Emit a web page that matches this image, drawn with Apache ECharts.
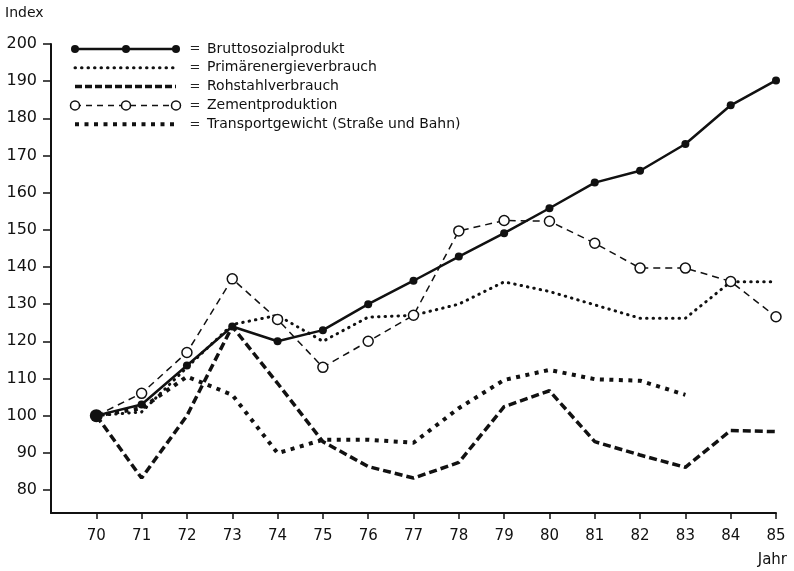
<!DOCTYPE html>
<html>
<head>
<meta charset="utf-8">
<script src="https://cdn.jsdelivr.net/npm/echarts@6/dist/echarts.min.js"></script>
<style>html,body{margin:0;padding:0;background:#fff}#c{width:794px;height:571px}</style>
</head>
<body>
<div id="c"></div>
<script>
var years = [70, 71, 72, 73, 74, 75, 76, 77, 78, 79, 80, 81, 82, 83, 84, 85];
var yTicks = [80, 90, 100, 110, 120, 130, 140, 150, 160, 170, 180, 190, 200];
var names = ['Bruttosozialprodukt', 'Primärenergieverbrauch', 'Rohstahlverbrauch', 'Zementproduktion', 'Transportgewicht (Straße und Bahn)'];
var brutto    = [100, 103, 113.5, 124, 120, 123, 130, 136.3, 142.8, 149.1, 155.8, 162.7, 165.9, 173.1, 183.5, 190.2];
var primaer   = [100, 101, 113, 124.5, 127, 120, 126.5, 127, 130, 136, 133.4, 129.8, 126.2, 126.2, 136, 136];
var rohstahl  = [100, 83.2, 100, 124, 108.7, 93, 86.3, 83.2, 87.4, 102.4, 106.7, 93, 89.4, 86.1, 96, 95.7];
var zement    = [100, 106, 117, 136.8, 125.9, 113, 120, 127, 149.7, 152.5, 152.3, 146.4, 139.7, 139.7, 136.1, 126.6];
var transport = [100, 102, 110.5, 105.6, 89.9, 93.5, 93.5, 92.7, 102, 109.6, 112.3, 109.8, 109.4, 105.6, null, null];

function pairs(arr) {
  var out = [];
  for (var i = 0; i < years.length; i++) { if (arr[i] != null) out.push([years[i], arr[i]]); }
  return out;
}
var FONT = 'DejaVu Sans';
var chart = echarts.init(document.getElementById('c'), null, {renderer: 'canvas'});

// legend drawn with graphic elements
var lx0 = 75, lx1 = 176, ly0 = 49, ldy = 18.8;
var styles = [
  {lineWidth: 2.5, lineDash: null, lineCap: 'butt'},
  {lineWidth: 3, lineDash: [0.5, 6], lineCap: 'round'},
  {lineWidth: 3.5, lineDash: [7, 3], lineCap: 'butt'},
  {lineWidth: 1.5, lineDash: [6, 5], lineCap: 'butt'},
  {lineWidth: 4, lineDash: [4, 5.5], lineCap: 'butt'}
];
var graphics = [];
for (var i = 0; i < names.length; i++) {
  var y = ly0 + i * ldy;
  graphics.push({type: 'line', shape: {x1: lx0, y1: y, x2: lx1, y2: y},
    style: {stroke: '#111', lineWidth: styles[i].lineWidth, lineDash: styles[i].lineDash, lineCap: styles[i].lineCap}});
  graphics.push({type: 'text', x: 195, y: y, style: {text: '=', font: '13px ' + FONT, fill: '#222', align: 'center', verticalAlign: 'middle'}});
  graphics.push({type: 'text', x: 207, y: y, style: {text: names[i], font: '14px ' + FONT, fill: '#111', align: 'left', verticalAlign: 'middle'}});
}
[lx0, 126, lx1].forEach(function (cx) {
  graphics.push({type: 'circle', shape: {cx: cx, cy: ly0, r: 4}, style: {fill: '#111'}});
  graphics.push({type: 'circle', shape: {cx: cx, cy: ly0 + 3 * ldy, r: 4.5}, style: {fill: '#fff', stroke: '#111', lineWidth: 1.5}});
});
graphics.push({type: 'text', x: 5, y: 13, style: {text: 'Index', font: '14px ' + FONT, fill: '#111', align: 'left', verticalAlign: 'middle'}});
graphics.push({type: 'text', x: 787, y: 560, style: {text: 'Jahr', font: '15px ' + FONT, fill: '#111', align: 'right', verticalAlign: 'middle'}});

chart.setOption({
  animation: false,
  backgroundColor: '#fff',
  grid: {left: 51, right: 18, top: 44, bottom: 58, containLabel: false},
  xAxis: {
    type: 'value', min: 69, max: 85,
    axisLine: {show: true, onZero: false, lineStyle: {color: '#111', width: 2}},
    axisTick: {show: true, length: 6, lineStyle: {color: '#111', width: 1.5}, customValues: years},
    axisLabel: {customValues: years, margin: 16, fontFamily: FONT, fontSize: 15, color: '#111', formatter: function (v) { return String(v); }},
    splitLine: {show: false}
  },
  yAxis: {
    type: 'value', min: 73.8, max: 200,
    axisLine: {show: true, onZero: false, lineStyle: {color: '#111', width: 2}},
    axisTick: {show: true, length: 8, lineStyle: {color: '#111', width: 1.5}, customValues: yTicks},
    axisLabel: {customValues: yTicks, margin: 14, fontFamily: FONT, fontSize: 16, color: '#111', formatter: function (v) { return String(v); }},
    splitLine: {show: false}
  },
  graphic: graphics,
  series: [
    {name: names[4], type: 'line', data: pairs(transport), showSymbol: false, z: 2,
      lineStyle: {color: '#111', width: 4, type: [4, 5.5], cap: 'butt'}},
    {name: names[2], type: 'line', data: pairs(rohstahl), showSymbol: false, z: 2,
      lineStyle: {color: '#111', width: 3.5, type: [8, 4], cap: 'butt'}},
    {name: names[1], type: 'line', data: pairs(primaer), showSymbol: false, z: 3,
      lineStyle: {color: '#111', width: 3, type: [0.5, 6], cap: 'round'}},
    {name: names[3], type: 'line', data: pairs(zement), symbol: 'circle', symbolSize: 10, z: 4,
      lineStyle: {color: '#111', width: 1.5, type: [7, 5]},
      itemStyle: {color: '#fff', borderColor: '#111', borderWidth: 1.5}},
    {name: names[0], type: 'line', data: pairs(brutto), symbol: 'circle', z: 5,
      symbolSize: function (v, p) { return p.dataIndex === 0 ? 13 : 8; },
      lineStyle: {color: '#111', width: 2.5},
      itemStyle: {color: '#111'}}
  ]
});
</script>
</body>
</html>
